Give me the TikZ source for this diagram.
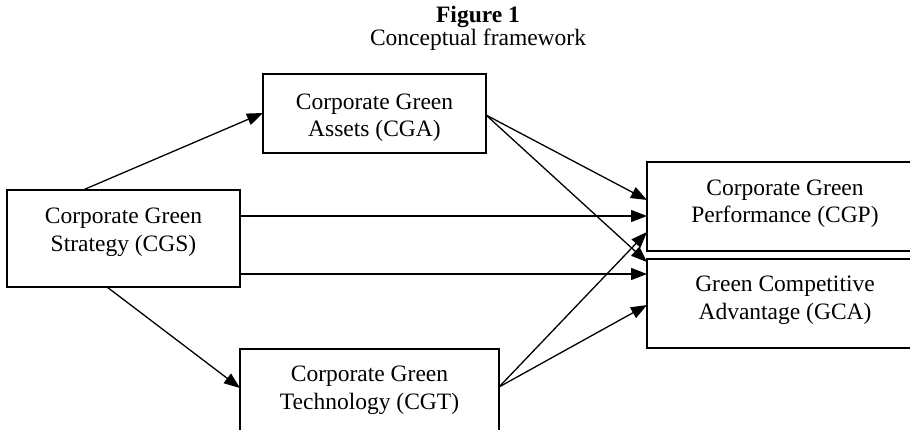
\documentclass[tikz,border=0pt]{standalone}
\usepackage{fontspec}
\setmainfont{Liberation Serif}
\usetikzlibrary{arrows.meta,calc}
\begin{document}
\begin{tikzpicture}[x=1pt,y=-1pt,
  boxst/.style={draw,line width=1.6pt,rectangle,inner sep=0pt,outer sep=0pt,anchor=north west},
  txt/.style={align=center,inner sep=0pt,font=\fontsize{23.5}{27.5}\selectfont},
  conn/.style={line width=1.3pt,-{Triangle[length=16pt,width=12pt]}},
  plain/.style={line width=1.3pt}]
\useasboundingbox (0,0) rectangle (910,430);
% title
\node[txt,font=\fontsize{23.5}{27}\selectfont\bfseries] (fig) at (478,16.5) {Figure 1};
\node[txt,font=\fontsize{23.5}{27}\selectfont] (cap) at (478,40) {Conceptual framework};
% boxes
\node[boxst,minimum width=223pt,minimum height=79pt] (cga) at (263,74) {};
\node[boxst,minimum width=233pt,minimum height=97pt] (cgs) at (7,190) {};
\node[boxst,minimum width=259pt,minimum height=91pt] (cgt) at (240,349) {};
\node[boxst,minimum width=276pt,minimum height=89pt] (cgp) at (647,162) {};
\node[boxst,minimum width=276pt,minimum height=89pt] (gca) at (647,259) {};
% texts
\node[txt] (cgatxt) at (374.5,117.5) {Corporate Green\\Assets (CGA)};
\node[txt] (cgstxt) at (123.5,232.5) {Corporate Green\\Strategy (CGS)};
\node[txt] (cgptxt) at (785,203.5) {Corporate Green\\Performance (CGP)};
\node[txt] (gcatxt) at (785,300.5) {Green Competitive\\Advantage (GCA)};
\node[txt] (cgttxt) at (369.5,390.5) {Corporate Green\\Technology (CGT)};
% connectors
\draw[conn] ([xshift=76pt]cgs.north west) -- ([yshift=0.5pt]cga.west);
\draw[conn] ([xshift=100pt]cgs.south west) -- ([yshift=-39pt]cgt.north west);
\coordinate (s1) at ([yshift=-26pt]cgs.north east);
\coordinate (s2) at ([yshift=13pt]cgs.south east);
\draw[conn] (s1) -- (s1 -| cgp.west);
\draw[conn] (s2) -- (s2 -| gca.west);
\coordinate (a0) at ([yshift=-1.5pt]cga.east);
\draw[conn] (a0) -- ([yshift=-38pt]cgp.north west);
\draw[conn] (a0) -- ([yshift=-3pt]gca.north west);
\coordinate (t0) at ([yshift=-38pt]cgt.north east);
\draw[conn] (t0) -- ([yshift=19pt]cgp.south west);
\draw[conn] (t0) -- ([yshift=-46pt]gca.north west);
\end{tikzpicture}
\end{document}
